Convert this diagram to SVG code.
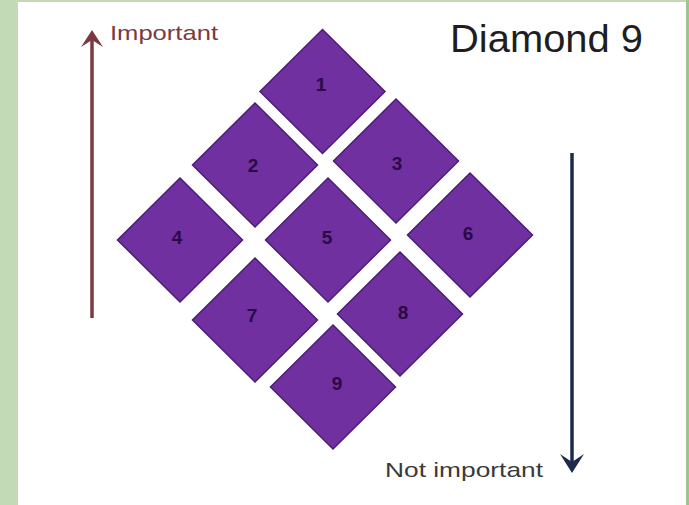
<svg xmlns="http://www.w3.org/2000/svg" width="689" height="505" viewBox="0 0 689 505">
  <defs>
    <style>
      .tile { fill: #7030a0; stroke: #4a1d78; stroke-width: 1.5; }
      .num { font-family: "Liberation Sans", Arial, sans-serif; font-size: 19px; font-weight: bold; fill: #2a0a45; text-anchor: middle; }
      .lbl { font-family: "Liberation Sans", Arial, sans-serif; }
    </style>
    <polygon id="d" points="0,-62 62.5,0 0,62 -62.5,0"/>
  </defs>
  <rect x="0" y="0" width="689" height="505" fill="#c2dbb6"/>
  <rect x="686" y="0" width="3" height="505" fill="#9cc68e"/>
  <rect x="18" y="2" width="668" height="503" fill="#ffffff"/>

  <text class="lbl" x="450" y="52" font-size="38" fill="#1e1e1e" textLength="193" lengthAdjust="spacingAndGlyphs">Diamond 9</text>

  <g id="tile1"><use href="#d" class="tile" x="322.5" y="91.5"/><text class="num" x="321" y="91">1</text></g>
  <g id="tile2"><use href="#d" class="tile" x="255" y="165"/><text class="num" x="253" y="172">2</text></g>
  <g id="tile3"><use href="#d" class="tile" x="396" y="161"/><text class="num" x="397" y="170">3</text></g>
  <g id="tile4"><use href="#d" class="tile" x="180" y="240"/><text class="num" x="177" y="244">4</text></g>
  <g id="tile5"><use href="#d" class="tile" x="328" y="240"/><text class="num" x="327" y="244">5</text></g>
  <g id="tile6"><use href="#d" class="tile" x="470" y="235"/><text class="num" x="468" y="240">6</text></g>
  <g id="tile7"><use href="#d" class="tile" x="255" y="320"/><text class="num" x="252" y="322">7</text></g>
  <g id="tile8"><use href="#d" class="tile" x="400" y="314"/><text class="num" x="403" y="319">8</text></g>
  <g id="tile9"><use href="#d" class="tile" x="333" y="387"/><text class="num" x="337" y="390">9</text></g>

  <g id="connectors">
    <g id="arrow-important">
      <line x1="92" y1="318" x2="92" y2="36" stroke="#7a3a40" stroke-width="3.5"/>
      <path d="M81,47 L92,30 L103,47 L92,40 Z" fill="#7a3a40"/>
    </g>
    <g id="arrow-not-important">
      <line x1="572" y1="153" x2="572" y2="466" stroke="#1c2b4d" stroke-width="3.5"/>
      <path d="M560,454 L572,473 L584,454 L572,462 Z" fill="#1c2b4d"/>
    </g>
  </g>

  <text class="lbl" x="110" y="40" font-size="21" fill="#7a3a40" textLength="108" lengthAdjust="spacingAndGlyphs">Important</text>
  <text class="lbl" x="385" y="477" font-size="21" fill="#3a3a3a" textLength="158" lengthAdjust="spacingAndGlyphs">Not important</text>
</svg>
